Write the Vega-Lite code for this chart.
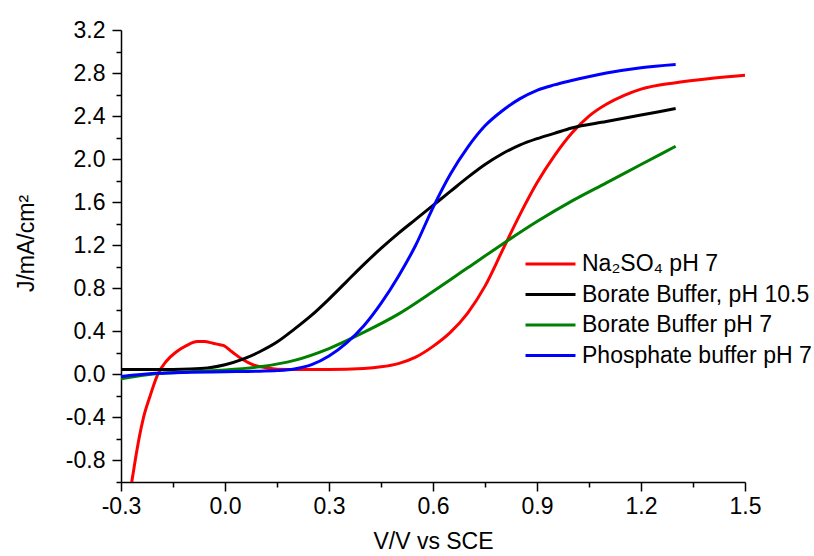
{
  "$schema": "https://vega.github.io/schema/vega-lite/v6.json",
  "width": 624,
  "height": 452,
  "autosize": "none",
  "padding": {"left": 121, "top": 30, "right": 69, "bottom": 74},
  "background": "white",
  "config": {
    "view": {"stroke": null},
    "font": "Liberation Sans",
    "axis": {
      "grid": false,
      "domainColor": "#000000",
      "domainWidth": 1.5,
      "tickColor": "#000000",
      "tickWidth": 1.5,
      "labelColor": "#000000",
      "labelFont": "Liberation Sans",
      "labelFontSize": 23,
      "titleFont": "Liberation Sans",
      "titleFontSize": 23,
      "titleFontWeight": "normal",
      "titleColor": "#000000"
    }
  },
  "data": {
    "values": [
      {"series": "Na₂SO₄ pH 7", "V": -0.274, "J": -1.10},
      {"series": "Na₂SO₄ pH 7", "V": -0.268, "J": -0.98},
      {"series": "Na₂SO₄ pH 7", "V": -0.258, "J": -0.78},
      {"series": "Na₂SO₄ pH 7", "V": -0.247, "J": -0.58},
      {"series": "Na₂SO₄ pH 7", "V": -0.235, "J": -0.40},
      {"series": "Na₂SO₄ pH 7", "V": -0.217, "J": -0.21},
      {"series": "Na₂SO₄ pH 7", "V": -0.194, "J": 0.0},
      {"series": "Na₂SO₄ pH 7", "V": -0.17, "J": 0.12},
      {"series": "Na₂SO₄ pH 7", "V": -0.14, "J": 0.21},
      {"series": "Na₂SO₄ pH 7", "V": -0.11, "J": 0.27},
      {"series": "Na₂SO₄ pH 7", "V": -0.08, "J": 0.305},
      {"series": "Na₂SO₄ pH 7", "V": -0.06, "J": 0.305},
      {"series": "Na₂SO₄ pH 7", "V": -0.035, "J": 0.29},
      {"series": "Na₂SO₄ pH 7", "V": -0.015, "J": 0.275},
      {"series": "Na₂SO₄ pH 7", "V": -0.005, "J": 0.27},
      {"series": "Na₂SO₄ pH 7", "V": 0.02, "J": 0.21},
      {"series": "Na₂SO₄ pH 7", "V": 0.05, "J": 0.14},
      {"series": "Na₂SO₄ pH 7", "V": 0.08, "J": 0.09},
      {"series": "Na₂SO₄ pH 7", "V": 0.12, "J": 0.06},
      {"series": "Na₂SO₄ pH 7", "V": 0.18, "J": 0.045},
      {"series": "Na₂SO₄ pH 7", "V": 0.30, "J": 0.045},
      {"series": "Na₂SO₄ pH 7", "V": 0.40, "J": 0.055},
      {"series": "Na₂SO₄ pH 7", "V": 0.45, "J": 0.07},
      {"series": "Na₂SO₄ pH 7", "V": 0.50, "J": 0.10},
      {"series": "Na₂SO₄ pH 7", "V": 0.55, "J": 0.16},
      {"series": "Na₂SO₄ pH 7", "V": 0.60, "J": 0.26},
      {"series": "Na₂SO₄ pH 7", "V": 0.65, "J": 0.39},
      {"series": "Na₂SO₄ pH 7", "V": 0.70, "J": 0.57},
      {"series": "Na₂SO₄ pH 7", "V": 0.75, "J": 0.82},
      {"series": "Na₂SO₄ pH 7", "V": 0.80, "J": 1.15},
      {"series": "Na₂SO₄ pH 7", "V": 0.85, "J": 1.48},
      {"series": "Na₂SO₄ pH 7", "V": 0.90, "J": 1.78},
      {"series": "Na₂SO₄ pH 7", "V": 0.95, "J": 2.03},
      {"series": "Na₂SO₄ pH 7", "V": 1.00, "J": 2.24},
      {"series": "Na₂SO₄ pH 7", "V": 1.05, "J": 2.40},
      {"series": "Na₂SO₄ pH 7", "V": 1.10, "J": 2.51},
      {"series": "Na₂SO₄ pH 7", "V": 1.15, "J": 2.59},
      {"series": "Na₂SO₄ pH 7", "V": 1.20, "J": 2.65},
      {"series": "Na₂SO₄ pH 7", "V": 1.30, "J": 2.71},
      {"series": "Na₂SO₄ pH 7", "V": 1.40, "J": 2.75},
      {"series": "Na₂SO₄ pH 7", "V": 1.50, "J": 2.78},

      {"series": "Borate Buffer, pH 10.5", "V": -0.30, "J": 0.045},
      {"series": "Borate Buffer, pH 10.5", "V": -0.20, "J": 0.045},
      {"series": "Borate Buffer, pH 10.5", "V": -0.10, "J": 0.05},
      {"series": "Borate Buffer, pH 10.5", "V": -0.05, "J": 0.06},
      {"series": "Borate Buffer, pH 10.5", "V": 0.00, "J": 0.09},
      {"series": "Borate Buffer, pH 10.5", "V": 0.05, "J": 0.14},
      {"series": "Borate Buffer, pH 10.5", "V": 0.10, "J": 0.21},
      {"series": "Borate Buffer, pH 10.5", "V": 0.15, "J": 0.30},
      {"series": "Borate Buffer, pH 10.5", "V": 0.20, "J": 0.42},
      {"series": "Borate Buffer, pH 10.5", "V": 0.25, "J": 0.55},
      {"series": "Borate Buffer, pH 10.5", "V": 0.30, "J": 0.70},
      {"series": "Borate Buffer, pH 10.5", "V": 0.35, "J": 0.86},
      {"series": "Borate Buffer, pH 10.5", "V": 0.40, "J": 1.02},
      {"series": "Borate Buffer, pH 10.5", "V": 0.45, "J": 1.17},
      {"series": "Borate Buffer, pH 10.5", "V": 0.50, "J": 1.31},
      {"series": "Borate Buffer, pH 10.5", "V": 0.55, "J": 1.44},
      {"series": "Borate Buffer, pH 10.5", "V": 0.60, "J": 1.57},
      {"series": "Borate Buffer, pH 10.5", "V": 0.65, "J": 1.70},
      {"series": "Borate Buffer, pH 10.5", "V": 0.70, "J": 1.83},
      {"series": "Borate Buffer, pH 10.5", "V": 0.75, "J": 1.95},
      {"series": "Borate Buffer, pH 10.5", "V": 0.80, "J": 2.05},
      {"series": "Borate Buffer, pH 10.5", "V": 0.85, "J": 2.13},
      {"series": "Borate Buffer, pH 10.5", "V": 0.90, "J": 2.19},
      {"series": "Borate Buffer, pH 10.5", "V": 0.95, "J": 2.24},
      {"series": "Borate Buffer, pH 10.5", "V": 1.00, "J": 2.29},
      {"series": "Borate Buffer, pH 10.5", "V": 1.10, "J": 2.35},
      {"series": "Borate Buffer, pH 10.5", "V": 1.20, "J": 2.41},
      {"series": "Borate Buffer, pH 10.5", "V": 1.30, "J": 2.47},

      {"series": "Borate Buffer pH 7", "V": -0.30, "J": -0.04},
      {"series": "Borate Buffer pH 7", "V": -0.20, "J": 0.005},
      {"series": "Borate Buffer pH 7", "V": -0.10, "J": 0.025},
      {"series": "Borate Buffer pH 7", "V": 0.00, "J": 0.04},
      {"series": "Borate Buffer pH 7", "V": 0.10, "J": 0.07},
      {"series": "Borate Buffer pH 7", "V": 0.20, "J": 0.13},
      {"series": "Borate Buffer pH 7", "V": 0.30, "J": 0.24},
      {"series": "Borate Buffer pH 7", "V": 0.40, "J": 0.39},
      {"series": "Borate Buffer pH 7", "V": 0.50, "J": 0.56},
      {"series": "Borate Buffer pH 7", "V": 0.60, "J": 0.77},
      {"series": "Borate Buffer pH 7", "V": 0.70, "J": 0.99},
      {"series": "Borate Buffer pH 7", "V": 0.80, "J": 1.21},
      {"series": "Borate Buffer pH 7", "V": 0.90, "J": 1.42},
      {"series": "Borate Buffer pH 7", "V": 1.00, "J": 1.61},
      {"series": "Borate Buffer pH 7", "V": 1.10, "J": 1.78},
      {"series": "Borate Buffer pH 7", "V": 1.20, "J": 1.95},
      {"series": "Borate Buffer pH 7", "V": 1.30, "J": 2.12},

      {"series": "Phosphate buffer pH 7", "V": -0.30, "J": -0.02},
      {"series": "Phosphate buffer pH 7", "V": -0.20, "J": 0.01},
      {"series": "Phosphate buffer pH 7", "V": -0.10, "J": 0.02},
      {"series": "Phosphate buffer pH 7", "V": 0.00, "J": 0.025},
      {"series": "Phosphate buffer pH 7", "V": 0.10, "J": 0.03},
      {"series": "Phosphate buffer pH 7", "V": 0.15, "J": 0.035},
      {"series": "Phosphate buffer pH 7", "V": 0.20, "J": 0.05},
      {"series": "Phosphate buffer pH 7", "V": 0.25, "J": 0.09},
      {"series": "Phosphate buffer pH 7", "V": 0.30, "J": 0.17},
      {"series": "Phosphate buffer pH 7", "V": 0.35, "J": 0.29},
      {"series": "Phosphate buffer pH 7", "V": 0.40, "J": 0.45},
      {"series": "Phosphate buffer pH 7", "V": 0.45, "J": 0.66},
      {"series": "Phosphate buffer pH 7", "V": 0.50, "J": 0.91},
      {"series": "Phosphate buffer pH 7", "V": 0.55, "J": 1.20},
      {"series": "Phosphate buffer pH 7", "V": 0.60, "J": 1.55},
      {"series": "Phosphate buffer pH 7", "V": 0.65, "J": 1.86},
      {"series": "Phosphate buffer pH 7", "V": 0.70, "J": 2.11},
      {"series": "Phosphate buffer pH 7", "V": 0.75, "J": 2.31},
      {"series": "Phosphate buffer pH 7", "V": 0.80, "J": 2.45},
      {"series": "Phosphate buffer pH 7", "V": 0.85, "J": 2.56},
      {"series": "Phosphate buffer pH 7", "V": 0.90, "J": 2.64},
      {"series": "Phosphate buffer pH 7", "V": 0.95, "J": 2.69},
      {"series": "Phosphate buffer pH 7", "V": 1.00, "J": 2.73},
      {"series": "Phosphate buffer pH 7", "V": 1.10, "J": 2.80},
      {"series": "Phosphate buffer pH 7", "V": 1.20, "J": 2.85},
      {"series": "Phosphate buffer pH 7", "V": 1.30, "J": 2.88}
    ]
  },
  "mark": {"type": "line", "strokeWidth": 3, "interpolate": "monotone", "clip": true},
  "encoding": {
    "x": {
      "field": "V",
      "type": "quantitative",
      "scale": {"domain": [-0.3, 1.5], "nice": false, "zero": false},
      "axis": {
        "title": "V/V vs SCE",
        "values": [-0.3, -0.15, 0, 0.15, 0.3, 0.45, 0.6, 0.75, 0.9, 1.05, 1.2, 1.35, 1.5],
        "labelExpr": "abs(round(datum.value * 100)) % 30 == 0 ? replace(format(datum.value, '.1f'), '\u2212', '-') : ''",
        "tickSize": {"condition": {"test": "abs(round(datum.value * 100)) % 30 != 0", "value": 5}, "value": 9},
        "labelPadding": 4,
        "labelFlush": false,
        "labelOverlap": false,
        "titlePadding": 12
      }
    },
    "y": {
      "field": "J",
      "type": "quantitative",
      "scale": {"domain": [-1.0, 3.2], "nice": false, "zero": false},
      "axis": {
        "title": "J/mA/cm²",
        "values": [-1.0, -0.8, -0.6, -0.4, -0.2, 0, 0.2, 0.4, 0.6, 0.8, 1.0, 1.2, 1.4, 1.6, 1.8, 2.0, 2.2, 2.4, 2.6, 2.8, 3.0, 3.2],
        "labelExpr": "abs(round(datum.value * 10)) % 4 == 0 ? replace(format(datum.value, '.1f'), '\u2212', '-') : ''",
        "tickSize": {"condition": {"test": "abs(round(datum.value * 10)) % 4 != 0", "value": 5}, "value": 9},
        "labelPadding": 7,
        "labelFlush": false,
        "labelOverlap": false,
        "titlePadding": 27,
        "titleY": 213
      }
    },
    "color": {
      "field": "series",
      "type": "nominal",
      "scale": {
        "domain": ["Na₂SO₄ pH 7", "Borate Buffer, pH 10.5", "Borate Buffer pH 7", "Phosphate buffer pH 7"],
        "range": ["#ff0000", "#000000", "#008000", "#0000ff"]
      },
      "legend": {
        "title": null,
        "orient": "none",
        "legendX": 403,
        "legendY": 222.5,
        "padding": 0,
        "symbolType": "stroke",
        "symbolSize": 2500,
        "symbolStrokeWidth": 3,
        "clipHeight": 23,
        "rowPadding": 6.5,
        "labelOffset": 5,
        "labelFont": "Liberation Sans",
        "labelFontSize": 23,
        "labelColor": "#000000",
        "labelLimit": 400
      }
    }
  }
}
